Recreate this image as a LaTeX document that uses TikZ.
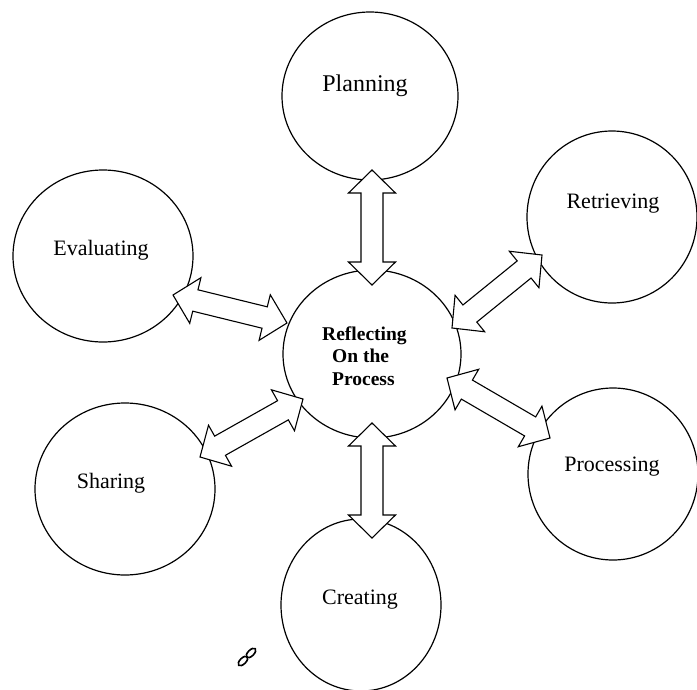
\documentclass[tikz,border=0pt]{standalone}
\usepackage{fontspec}
\setmainfont{Liberation Serif}
\usetikzlibrary{calc,shapes.geometric}
\tikzset{
  stage/.style={draw, line width=1.2pt, ellipse, inner sep=0pt},
  label22/.style={font=\fontsize{22}{24}\selectfont},
  blockarrow/.style={draw, line width=1.1pt, fill=white, line join=miter},
}
\newcommand{\twoheadblock}[2]{%
  \coordinate (h1) at ($(#1)!23pt!(#2)$);
  \coordinate (h2) at ($(#2)!23pt!(#1)$);
  \draw[blockarrow] (#1)
    -- ($(h1)!23.5pt!90:(#2)$) -- ($(h1)!11pt!90:(#2)$)
    -- ($(h2)!11pt!-90:(#1)$) -- ($(h2)!23.5pt!-90:(#1)$)
    -- (#2)
    -- ($(h2)!23.5pt!90:(#1)$) -- ($(h2)!11pt!90:(#1)$)
    -- ($(h1)!11pt!-90:(#2)$) -- ($(h1)!23.5pt!-90:(#2)$)
    -- cycle;}
\begin{document}
\begin{tikzpicture}[x=1pt,y=-1pt]
\useasboundingbox (0,0) rectangle (697,689);
% circles
\node[stage, minimum width=176pt, minimum height=168pt] (plan) at (370,96) {};
\node[stage, minimum width=170pt, minimum height=172pt] (retr) at (612,217) {};
\node[stage, minimum width=180pt, minimum height=172pt] (eval) at (103,256) {};
\node[stage, minimum width=178pt, minimum height=168pt] (refl) at (372,354) {};
\node[stage, minimum width=180pt, minimum height=172pt] (shar) at (125,489) {};
\node[stage, minimum width=170pt, minimum height=172pt] (proc) at (613,474) {};
\node[stage, minimum width=160pt, minimum height=172pt] (crea) at (361,605) {};
% labels
\node[font=\fontsize{24}{26}\selectfont] (tplan) at (365,86) {Planning};
\node[label22] (tretr) at (613,204) {Retrieving};
\node[label22] (teval) at (101,250) {Evaluating};
\node[label22] (tshar) at (111,483) {Sharing};
\node[label22] (tproc) at (612,467) {Processing};
\node[label22] (tcrea) at (360,600) {Creating};
\node[font=\fontsize{19.5}{22.5}\selectfont\bfseries, align=left, anchor=west, inner sep=0pt] (trefl) at (322,356)
  {Reflecting\\\hspace*{10pt}On the\\\hspace*{10pt}Process};
% arrow end points
\coordinate (pa) at (372,170); \coordinate (pb) at (372,285);
\coordinate (ra) at (542,255); \coordinate (rb) at (452,328);
\coordinate (ea) at (173,295); \coordinate (eb) at (287,323);
\coordinate (sa) at (303,399); \coordinate (sb) at (200,457);
\coordinate (qa) at (447,378); \coordinate (qb) at (550,438);
\coordinate (ca) at (372,423); \coordinate (cb) at (372,538);
\twoheadblock{pa}{pb}
\twoheadblock{ra}{rb}
\twoheadblock{ea}{eb}
\twoheadblock{sa}{sb}
\twoheadblock{qa}{qb}
\twoheadblock{ca}{cb}
% small mark
\node[draw, ellipse, rotate=45, minimum width=12pt, minimum height=6pt, line width=1.6pt, inner sep=0pt] (m1) at (243,661) {};
\node[draw, ellipse, rotate=45, minimum width=12pt, minimum height=6pt, line width=1.6pt, inner sep=0pt] (m2) at (251,653) {};
\end{tikzpicture}
\end{document}
